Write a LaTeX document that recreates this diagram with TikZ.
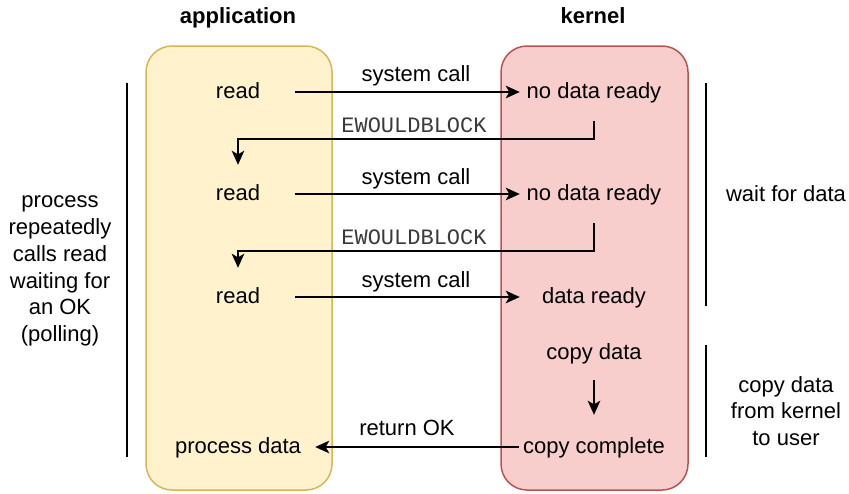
\documentclass[tikz,border=0pt]{standalone}
\usepackage{fontspec}
\setmainfont{Liberation Sans}
\setmonofont{Liberation Mono}
\usetikzlibrary{arrows.meta}
\definecolor{appfill}{HTML}{FFF2CC}
\definecolor{appline}{HTML}{D6B656}
\definecolor{krnfill}{HTML}{F8CECC}
\definecolor{krnline}{HTML}{B85450}
\definecolor{codegray}{HTML}{3A3A3A}
\tikzset{
  lane/.style={draw, line width=1.5pt, rounded corners=26pt},
  txt/.style={inner sep=0pt, font=\fontsize{22}{26.8}\selectfont, align=center},
  line1/.style={txt, text height=16pt, text depth=4pt},
  appstep/.style={line1, minimum width=114pt, minimum height=58pt},
  krnstep/.style={line1, minimum width=148pt, minimum height=58pt},
  title/.style={line1, font=\fontsize{22}{26.8}\selectfont\bfseries},
  code/.style={inner sep=0pt, text height=16pt, text depth=4pt,
    font=\ttfamily\fontsize{22}{26}\selectfont, text=codegray},
  flow/.style={line width=2pt, -{Stealth[length=14pt, width=12.5pt, inset=3.5pt]}},
  brace/.style={line width=1.8pt}
}
\begin{document}
\begin{tikzpicture}[x=1pt, y=-1pt]
  \useasboundingbox (0,0) rectangle (849,493);

  % lanes
  \draw[lane, fill=appfill, draw=appline] (146,46) rectangle (332,490);
  \draw[lane, fill=krnfill, draw=krnline] (501,46) rectangle (688,490);
  \node[title] (tapp) at (238,17) {application};
  \node[title] (tkrn) at (593,17) {kernel};

  % application side
  \node[appstep] (r1) at (238,92) {read};
  \node[appstep] (r2) at (238,194) {read};
  \node[appstep] (r3) at (238,297) {read};
  \node[line1, minimum width=154pt, minimum height=40pt] (pd) at (238,447) {process data};

  % kernel side
  \node[krnstep] (k1) at (594,92) {no data ready};
  \node[krnstep] (k2) at (594,194) {no data ready};
  \node[krnstep] (k3) at (594,297) {data ready};
  \node[line1, minimum width=148pt, minimum height=54pt] (k4) at (594,353) {copy data};
  \node[line1, minimum width=150pt, minimum height=64pt] (k5) at (594,447) {copy complete};

  % calls and replies
  \draw[flow] (r1.east) -- (k1.west);
  \draw[flow] (r2.east) -- (k2.west);
  \draw[flow] (r3.east) -- (k3.west);
  \draw[flow] (k1.south) -- ++(0,18) -| (r2.north);
  \draw[flow] (k2.south) -- ++(0,28) -| (r3.north);
  \draw[flow] (k4.south) -- (k5.north);
  \draw[flow] (k5.west) -- (pd.east);

  \node[line1] (l1) at (416,75) {system call};
  \node[line1] (l2) at (416,178) {system call};
  \node[line1] (l3) at (416,281) {system call};
  \node[code] (e1) at (414,126) {EWOULDBLOCK};
  \node[code] (e2) at (414,238) {EWOULDBLOCK};
  \node[line1] (l4) at (407,429) {return OK};

  % phase markers
  \coordinate (pa) at (127,83);
  \coordinate (pb) at (127,457);
  \draw[brace] (pa) -- (pb);
  \node[txt] (poll) at (60,271) {process\\repeatedly\\calls read\\waiting for\\an OK\\(polling)};

  \coordinate (wa) at (706,83);
  \coordinate (wb) at (706,306);
  \draw[brace] (wa) -- (wb);
  \node[line1] (wait) at (786,195) {wait for data};

  \coordinate (ca) at (706,345);
  \coordinate (cb) at (706,457);
  \draw[brace] (ca) -- (cb);
  \node[txt] (copy) at (786,411) {copy data\\from kernel\\to user};
\end{tikzpicture}
\end{document}
